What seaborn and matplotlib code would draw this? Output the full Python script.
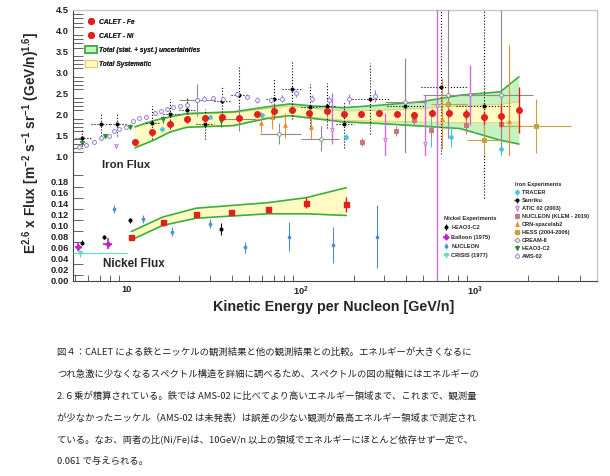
import numpy as np
import matplotlib
matplotlib.use("Agg")
import matplotlib.pyplot as plt
import seaborn as sns
from matplotlib.ticker import FixedLocator, LogLocator, NullFormatter, FormatStrFormatter
from matplotlib.patches import Patch
from matplotlib.font_manager import FontProperties

sns.set_theme(style="white")
plt.rcParams['font.family'] = ['Liberation Sans', 'DejaVu Sans']
plt.rcParams['mathtext.fontset'] = 'custom'
plt.rcParams['mathtext.rm'] = 'Liberation Sans:bold'
plt.rcParams['mathtext.it'] = 'Liberation Sans:bold:italic'
plt.rcParams['mathtext.bf'] = 'Liberation Sans:bold'
plt.rcParams['mathtext.default'] = 'rm'

# ---------------- CALET iron
fe_energy = [11.1, 14.0, 17.7, 22.2, 28.0, 35.2, 44.2, 55.6, 70.0, 88.5, 111.7, 140.6,
             176.6, 222, 280, 353, 444, 561, 710, 888, 1122, 1410, 1782]
fe_flux = [1.34, 1.57, 1.76, 1.88, 1.91, 1.93, 1.91, 2.00, 2.07, 2.10, 2.04, 2.08,
           2.00, 2.00, 2.03, 2.01, 1.98, 2.04, 2.04, 2.02, 1.93, 1.97, 2.11]
fe_err = [0.02, 0.02, 0.02, 0.02, 0.02, 0.03, 0.03, 0.03, 0.03, 0.04, 0.04, 0.05,
          0.05, 0.05, 0.06, 0.07, 0.08, 0.09, 0.10, 0.12, 0.15, 0.28, 0.55]

# iron bands
band_energy = [11.1, 14.2, 17.7, 22.0, 40.8, 63.5, 86.0, 118, 175, 284, 483, 820, 1393, 1780]
tot_hi = [1.70, 1.85, 1.94, 2.02, 2.06, 2.18, 2.25, 2.20, 2.16, 2.22, 2.30, 2.46, 2.54, 2.90]
tot_lo = [1.20, 1.38, 1.58, 1.69, 1.73, 1.90, 1.97, 1.90, 1.82, 1.78, 1.72, 1.66, 1.38, 1.29]
sys_hi = [1.70, 1.85, 1.94, 2.00, 2.04, 2.14, 2.20, 2.14, 2.08, 2.10, 2.14, 2.20, 2.24, 2.30]
sys_lo = [1.20, 1.38, 1.58, 1.70, 1.74, 1.92, 1.98, 1.93, 1.86, 1.84, 1.82, 1.80, 1.80, 1.82]

# ---------------- CALET nickel
ni_energy = [10.6, 16.0, 24.9, 39.6, 64.4, 106.9, 181.6]
ni_flux = [0.079, 0.106, 0.120, 0.124, 0.130, 0.141, 0.138]
ni_err = [0.002, 0.003, 0.003, 0.003, 0.004, 0.010, 0.013]
ni_band_energy = [10.6, 16.0, 24.9, 64.4, 106.9, 181.6]
ni_band_hi = [0.089, 0.115, 0.131, 0.141, 0.150, 0.168]
ni_band_lo = [0.074, 0.100, 0.113, 0.121, 0.121, 0.118]

# ---------------- other iron experiments
tracer_e = [15.8, 30.0, 60.0, 180, 560, 725, 1410]
tracer_f = [1.66, 1.94, 1.98, 1.46, 1.62, 1.47, 1.17]
tracer_err = [0.03, 0.04, 0.05, 0.08, 0.40, 0.25, 0.33]

san_e = [5.55, 7.06, 8.8, 14.0, 17.7, 22.0, 28.0, 35.3, 44.2, 70.0, 88.5, 112, 141, 177, 249, 396, 632, 1122]
san_f = [1.44, 1.76, 1.76, 1.80, 2.00, 2.10, 1.76, 2.32, 2.46, 2.38, 2.60, 2.18, 2.21, 1.76, 2.38, 2.21, 2.65, 2.20]
san_lo = [0.2, 0.28, 0.28, 0.4, 0.36, 0.3, 0.36, 0.34, 0.68, 0.5, 0.7, 0.54, 0.54, 0.56, 0.84, 1.1, 1.67, 2.05]
san_hi = [0.2, 0.28, 0.28, 0.4, 0.36, 0.3, 0.36, 0.34, 0.68, 0.5, 0.7, 0.54, 0.54, 0.56, 0.84, 1.1, 2.0, 2.3]
san_elo = [5.0, 6.2, 8.0, 12.9, 16.0, 20.0, 25.0, 31.6, 39.8, 63.1, 77.5, 100, 126, 158, 196, 310, 490, 780]
san_ehi = [6.3, 8.0, 10.0, 15.5, 20.0, 25.0, 31.6, 39.8, 50.1, 79.4, 100, 126, 158, 200, 318, 505, 910, 1590]

atic_e = [8.6, 150, 305, 516, 603, 935]
atic_f = [1.25, 1.62, 1.38, 1.30, 2.20, 2.46]
atic_lo = [0.05, 0.32, 0.40, 0.32, 2.30, 0.72]
atic_hi = [0.05, 0.88, 0.65, 1.16, 3.00, 0.72]

klem_e = [223, 352, 444, 559, 890, 1410]
klem_f = [1.34, 1.60, 1.86, 1.62, 1.74, 1.78]
klem_err = [0.10, 0.12, 0.14, 0.16, 0.22, 0.30]

crn_e = [58.6, 68.4, 81, 114, 640, 1570]
crn_f = [1.80, 1.94, 1.74, 1.70, 1.88, 1.85]
crn_lo = [0.25, 0.30, 0.30, 0.30, 0.70, 1.00]
crn_hi = [0.25, 0.30, 0.30, 0.30, 1.00, 1.80]

hess_e = [700, 1115, 2240]
hess_f = [2.25, 1.38, 1.73]
hess_err = [0.70, 0.40, 0.65]
hess_elo = [560, 895, 1393]
hess_ehi = [895, 1393, 3550]

cream_e = [25.1, 44.0, 74.7, 130, 396, 700, 1410]
cream_f = [2.34, 1.90, 1.54, 1.42, 2.30, 2.46, 2.46]
cream_lo = [0.38, 0.30, 0.25, 0.30, 1.20, 1.03, 1.36]
cream_hi = [0.38, 0.30, 0.25, 0.30, 1.04, 2.04, 2.04]
cream_elo = [20.0, 35.0, 58.0, 100, 305, 500, 1000]
cream_ehi = [32.0, 55.0, 100, 165, 520, 1000, 2140]

heao_fe_e = [5.55, 7.47, 10.4, 16.0, 34.8]
heao_fe_f = [1.32, 1.49, 1.70, 1.88, 1.85]
heao_fe_err = [0.05, 0.05, 0.06, 0.08, 0.15]

ams_e = [5.30, 5.81, 6.46, 7.09, 7.88, 8.45, 9.03, 9.83, 10.9, 11.8, 12.9, 14.5, 15.6, 17.0, 18.5, 20.2,
         22.2, 25.1, 27.7, 31.3, 35.4, 42.7, 48.7, 56, 67, 78, 94, 116, 144, 188, 264]
ams_f = [1.23, 1.27, 1.35, 1.44, 1.48, 1.61, 1.66, 1.70, 1.84, 1.91, 1.93, 2.03, 2.08, 2.14, 2.18, 2.20,
         2.22, 2.34, 2.38, 2.40, 2.36, 2.48, 2.42, 2.34, 2.34, 2.38, 2.50, 2.38, 2.34, 2.36, 2.44]
ams_err = [0.03] * 16 + [0.04, 0.04, 0.05, 0.05, 0.05, 0.06, 0.06, 0.07, 0.07, 0.08, 0.08, 0.09, 0.10, 0.12, 0.14]

# ---------------- other nickel experiments
heao_ni_e = [5.53, 7.41, 10.45, 16.0, 34.7]
heao_ni_f = [0.069, 0.079, 0.109, 0.104, 0.093]
heao_ni_err = [0.004, 0.004, 0.005, 0.005, 0.011]

balloon_e = [5.25, 7.74]
balloon_f = [0.062, 0.067]
balloon_err = [0.008, 0.010]
balloon_elo = [5.0, 7.3]
balloon_ehi = [5.5, 8.2]

nucleon_e = [8.45, 12.4, 18.2, 30.0, 47.6, 85.3, 152, 272]
nucleon_f = [0.129, 0.112, 0.089, 0.103, 0.061, 0.080, 0.065, 0.080]
nucleon_err = [0.007, 0.007, 0.008, 0.008, 0.010, 0.026, 0.033, 0.057]

crisis_e = [5.37]
crisis_f = [0.050]
crisis_err = [0.006]
crisis_elo = [4.9]
crisis_ehi = [10.0]

caption = [
    "図４：CALET による鉄とニッケルの観測結果と他の観測結果との比較。エネルギーが大きくなるに",
    "つれ急激に少なくなるスペクトル構造を詳細に調べるため、スペクトルの図の縦軸にはエネルギーの",
    "2.６乗が積算されている。鉄では AMS-02 に比べてより高いエネルギー領域まで、これまで、観測量",
    "が少なかったニッケル（AMS-02 は未発表）は誤差の少ない観測が最高エネルギー領域まで測定され",
    "ている。なお、両者の比(Ni/Fe)は、10GeV/n 以上の領域でエネルギーにほとんど依存せず一定で、",
    "0.061 で与えられる。",
]

fig = plt.figure(figsize=(6.1, 4.76), dpi=100)
ax_hi = fig.add_axes([0.1197, 0.672, 0.859, 0.307])
ax_lo = fig.add_axes([0.1197, 0.4097, 0.859, 0.2625], sharex=ax_hi)


def points(axes, e, f, lo, hi, color, marker, ms=2.6, ls='-', elo=None, ehi=None,
           hollow=False, lw=0.8, z=3):
    e = np.asarray(e, float)
    xerr = None
    if elo is not None:
        xerr = [e - np.asarray(elo, float), np.asarray(ehi, float) - e]
    first = None
    for ax in axes:
        c = ax.errorbar(e, f, yerr=[lo, hi], xerr=xerr, fmt=marker, color=color, ms=ms,
                        mfc='white' if hollow else color, mec=color, mew=0.7,
                        elinewidth=lw, capsize=0, zorder=z)
        if ls != '-':
            for ln in c[2]:
                ln.set_linestyle(ls)
        if first is None:
            first = c
    return first


# bands
ax_hi.fill_between(band_energy, tot_lo, tot_hi, color='#c4f2c0', lw=0, zorder=1)
ax_hi.fill_between(band_energy, sys_lo, sys_hi, color='#fffbc2', lw=0, zorder=1.1)
for edge in (sys_lo, sys_hi):
    ax_hi.plot(band_energy, edge, color='#f2c46a', lw=0.6, zorder=1.2)
for edge in (tot_lo, tot_hi):
    sns.lineplot(x=band_energy, y=edge, ax=ax_hi, color='#3cae3c', lw=1.2,
                 estimator=None, sort=False, zorder=1.3)
ax_lo.fill_between(ni_band_energy, ni_band_lo, ni_band_hi, color='#fffbc2', lw=0, zorder=1)
for edge in (ni_band_lo, ni_band_hi):
    sns.lineplot(x=ni_band_energy, y=edge, ax=ax_lo, color='#3cae3c', lw=1.2,
                 estimator=None, sort=False, zorder=1.3)

both = [ax_hi, ax_lo]
h_tracer = points(both, tracer_e, tracer_f, tracer_err, tracer_err, '#3cc8e4', 'o')
h_san = points(both, san_e, san_f, san_lo, san_hi, 'black', 'o', ms=2.2, ls=':',
               elo=san_elo, ehi=san_ehi)
h_atic = points(both, atic_e, atic_f, atic_lo, atic_hi, '#cc6fdc', 'v', hollow=True, lw=1.0)
h_klem = points(both, klem_e, klem_f, klem_err, klem_err, '#c47a7a', 's')
h_crn = points(both, crn_e, crn_f, crn_lo, crn_hi, '#ea8a3a', '^')
h_hess = points(both, hess_e, hess_f, hess_err, hess_err, '#c8a23a', 's', elo=hess_elo, ehi=hess_ehi)
h_cream = points(both, cream_e, cream_f, cream_lo, cream_hi, '#8c8c8c', 'o', hollow=True,
                 elo=cream_elo, ehi=cream_ehi)
h_heao_fe = points(both, heao_fe_e, heao_fe_f, heao_fe_err, heao_fe_err, '#2e8b34', 'v', ms=3)
h_ams = points(both, ams_e, ams_f, ams_err, ams_err, '#9a7ed6', 'o', hollow=True, ms=2.8)

h_heao_ni = points([ax_lo], heao_ni_e, heao_ni_f, heao_ni_err, heao_ni_err, 'black', 'o', ms=2.2)
h_balloon = points([ax_lo], balloon_e, balloon_f, balloon_err, balloon_err, '#c81ec8', 'P', ms=3.5,
                   elo=balloon_elo, ehi=balloon_ehi, lw=1.2)
h_nucleon = points([ax_lo], nucleon_e, nucleon_f, nucleon_err, nucleon_err, '#4a90d0', 'o', ms=2)
h_crisis = points([ax_lo], crisis_e, crisis_f, crisis_err, crisis_err, '#5ee0b4', 'v', ms=3,
                  elo=crisis_elo, ehi=crisis_ehi)

h_fe = ax_hi.errorbar(fe_energy, fe_flux, yerr=fe_err, fmt='o', color='#e41f1a', ms=4,
                      elinewidth=1.0, capsize=0, zorder=5)
ax_lo.errorbar(ni_energy, ni_flux, yerr=ni_err, fmt='s', color='#e41f1a', ms=3.6,
               elinewidth=1.0, capsize=0, zorder=5)

# axes
ax_hi.set_xscale('log')
ax_hi.set_xlim(4.9, 5000)
ax_hi.set_ylim(1.0, 4.5)
ax_lo.set_ylim(0.0, 0.225)

ax_hi.yaxis.set_major_locator(FixedLocator(np.arange(1.0, 4.51, 0.5)))
ax_hi.yaxis.set_minor_locator(FixedLocator(np.arange(1.0, 4.51, 0.1)))
ax_hi.yaxis.set_major_formatter(FormatStrFormatter('%.1f'))
ax_lo.yaxis.set_major_locator(FixedLocator(np.arange(0.0, 0.181, 0.02)))
ax_lo.yaxis.set_minor_locator(FixedLocator(np.arange(0.0, 0.191, 0.01)))
ax_lo.yaxis.set_major_formatter(FormatStrFormatter('%.2f'))

ax_lo.xaxis.set_major_locator(FixedLocator([10, 100, 1000]))
ax_lo.xaxis.set_minor_locator(LogLocator(base=10, subs=np.arange(2, 10)))
ax_lo.xaxis.set_minor_formatter(NullFormatter())
ax_lo.set_xticklabels(['10', '$10^{2}$', '$10^{3}$'])

tick_font = dict(labelsize=6.7, labelcolor='#222222', color='#333333')
for ax in both:
    ax.tick_params(axis='y', which='major', direction='in', length=14, width=0.6, pad=3, **tick_font)
    ax.tick_params(axis='y', which='minor', direction='in', length=7, width=0.5, left=True)
    for lab in ax.get_yticklabels():
        lab.set_fontweight('bold')
ax_lo.tick_params(axis='x', which='major', direction='in', length=7, width=0.6, pad=3, **tick_font)
ax_lo.tick_params(axis='x', which='minor', direction='in', length=4, width=0.5, bottom=True)
ax_hi.tick_params(axis='x', which='both', bottom=False, top=False, labelbottom=False)
for lab in ax_lo.get_xticklabels():
    lab.set_fontweight('bold')

ax_hi.spines['bottom'].set_visible(False)
ax_lo.spines['top'].set_visible(False)
for ax in both:
    ax.spines['left'].set_color('#444444')
    ax.spines['left'].set_linewidth(0.8)
    ax.spines['right'].set_color('#c8c8c8')
    ax.spines['right'].set_linewidth(1.0)
    ax.set_xlabel('')
    ax.set_ylabel('')
ax_hi.spines['top'].set_color('#c8c8c8')
ax_hi.spines['top'].set_linewidth(1.0)
ax_lo.spines['bottom'].set_color('#444444')
ax_lo.spines['bottom'].set_linewidth(0.8)

# legends
leg_font = FontProperties(family='Liberation Sans', weight='bold', style='italic', size=4.8)
leg1 = ax_hi.legend([h_fe, h_fe, Patch(facecolor='#c4f2c0', edgecolor='#3cae3c', lw=1.2),
                     Patch(facecolor='#fffbc2', edgecolor='#f2c46a', lw=0.8)],
                    ['CALET - Fe', 'CALET - Ni', 'Total (stat. + syst.) uncertainties', 'Total Systematic'],
                    loc='upper left', bbox_to_anchor=(0.012, 0.985), prop=leg_font, frameon=False,
                    handlelength=1.75, handleheight=1.3, handletextpad=0.25, labelspacing=0.92)
ax_hi.add_artist(leg1)

small = FontProperties(family='Liberation Sans', weight='bold', size=4.1)
leg_ni = ax_lo.legend([h_heao_ni, h_balloon, h_nucleon, h_crisis],
                      ['HEAO3-C2', 'Balloon (1975)', 'NUCLEON', 'CRISIS (1977)'],
                      title='Nickel Experiments', title_fontproperties=small, alignment='left',
                      loc='upper left', bbox_to_anchor=(0.70, 0.555), prop=small, frameon=False,
                      handlelength=0.8, handletextpad=0.5, labelspacing=0.78, borderpad=0.2)
ax_lo.add_artist(leg_ni)
ax_lo.legend([h_tracer, h_san, h_atic, h_klem, h_crn, h_hess, h_cream, h_heao_fe, h_ams],
             ['TRACER', 'Sanriku', 'ATIC 02 (2003)', 'NUCLEON (KLEM - 2019)', 'CRN-spacelab2',
              'HESS (2004-2006)', 'CREAM-II', 'HEAO3-C2', 'AMS-02'],
             title='Iron Experiments', title_fontproperties=small, alignment='left',
             loc='upper left', bbox_to_anchor=(0.835, 0.825), prop=small, frameon=False,
             handlelength=0.8, handletextpad=0.5, labelspacing=0.52, borderpad=0.2)

# texts
fig.text(102 / 610, 1 - 165 / 476, 'Iron Flux', fontsize=8.2, fontweight='bold', va='center')
fig.text(103 / 610, 1 - 264 / 476, 'Nickel Flux', fontsize=8.4, fontweight='bold', va='center')
fig.text(334 / 610, 1 - 307 / 476, 'Kinetic Energy per Nucleon [GeV/n]', fontsize=10.3,
         fontweight='bold', ha='center', va='center')
fig.text(31 / 610, 1 - 143 / 476,
         'E$^{2.6}$ x Flux [m$^{-2}$ s$^{-1}$ sr$^{-1}$ (GeV/n)$^{1.6}$]',
         fontsize=9.9, fontweight='bold', rotation=90, ha='center', va='center')

for i, line in enumerate(caption):
    fig.text(57 / 610, 1 - (352 + 21.9 * i) / 476, line, fontsize=6.75, va='center',
             family=['Noto Sans CJK JP', 'DejaVu Sans'], color='#222222')

fig.savefig('out.png', dpi=100)
